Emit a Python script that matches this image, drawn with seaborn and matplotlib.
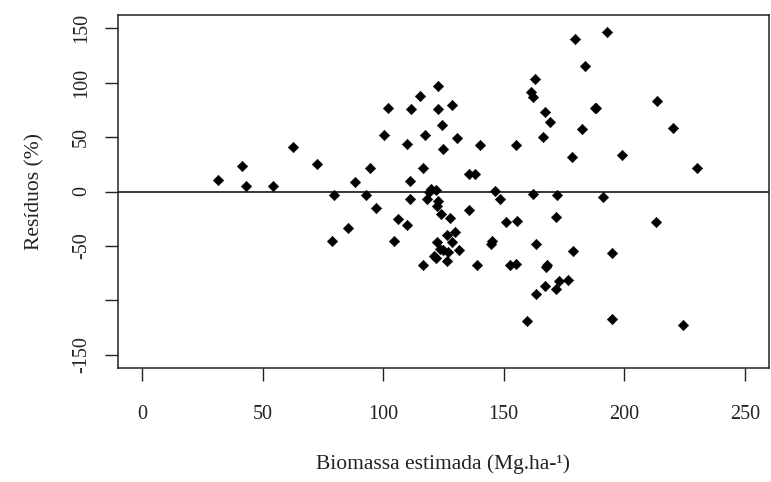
import matplotlib
matplotlib.use("Agg")
import matplotlib.pyplot as plt
import seaborn as sns
import pandas as pd

# Estimated biomass (Mg/ha) and residuals (%)
biomassa = [31.6, 41.6, 42.9, 54.1, 62.4, 72.4, 79.4, 78.9, 85.5, 88.5,
            92.8, 94.5, 97.0, 100.4, 102.1, 104.6, 106.2, 109.8, 109.7, 111.2,
            111.2, 111.6, 115.3, 116.4, 116.4, 117.5, 118.1, 119.0, 120.0, 121.8,
            122.9, 122.9, 122.9, 122.3, 124.1, 124.3, 124.8, 127.8, 128.4, 129.6,
            126.5, 128.4, 122.3, 131.3, 123.4, 124.8, 126.9, 121.0, 121.8, 126.5,
            130.6, 135.4, 137.9, 135.6, 139.0, 140.2, 144.8, 145.2, 146.2, 148.5,
            151.0, 155.5, 152.5, 155.0, 155.1, 159.8, 162.2, 161.3, 162.2, 162.9,
            163.3, 163.4, 166.3, 167.0, 167.1, 167.7, 168.0, 169.2, 171.5, 172.2,
            171.7, 172.7, 176.5, 178.3, 178.9, 179.4, 182.3, 183.5, 187.7, 188.2,
            191.3, 193.0, 194.7, 194.7, 199.0, 213.2, 213.7, 220.3, 224.5, 230.3]
residuos = [11.0, 23.0, 5.5, 5.5, 41.0, 25.0, -3.4, -45.5, -33.6, 8.5,
            -3.4, 21.7, -15.3, 52.0, 76.7, -45.5, -25.6, -31.0, 44.0, 10.0,
            -7.0, 75.4, 87.5, 21.7, -67.8, 52.0, -7.3, -0.6, 2.5, 1.6,
            96.4, 75.4, -8.9, -13.5, -20.4, 61.0, 38.7, -24.4, 79.4, -37.2,
            -40.3, -46.4, -46.4, -53.4, -52.5, -54.0, -55.6, -59.5, -61.1, -63.8,
            49.2, 16.2, 16.2, -16.8, -67.8, 42.7, -47.9, -45.0, 0.3, -7.3,
            -28.4, -27.2, -67.8, -66.8, 42.7, -119.0, -2.1, 91.0, 86.5, 102.8,
            -48.3, -94.3, 50.4, 73.0, -86.4, -69.3, -67.8, 63.5, -23.5, -3.4,
            -89.1, -82.4, -80.9, 32.0, -54.7, 139.8, 57.1, 114.8, 76.9, 76.9,
            -4.9, 146.2, -56.2, -116.6, 33.6, -28.4, 83.3, 58.3, -122.7, 21.7]

x_ticks = [0, 50, 100, 150, 200, 250]
x_tick_labels = ["0", "50", "100", "150", "200", "250"]
y_ticks = [-150, -100, -50, 0, 50, 100, 150]
y_tick_labels = ["-150", "", "-50", "0", "50", "100", "150"]

df = pd.DataFrame({"biomassa": biomassa, "residuos": residuos})

sns.set_style("ticks")
plt.rcParams["font.family"] = ["Liberation Serif", "DejaVu Serif"]

fig = plt.figure(figsize=(7.71, 4.82), dpi=100)
ax = fig.add_axes([118 / 771, 1 - 368 / 482, (769 - 118) / 771, (368 - 15) / 482])

sns.scatterplot(data=df, x="biomassa", y="residuos", marker="D", color="black",
                s=28, linewidth=0.4, edgecolor="black", ax=ax, zorder=3)
ax.axhline(0, color="black", lw=1.1, zorder=2)

ax.set_xlim(-10, 260)
ax.set_ylim(-162, 162)
ax.set_xticks(x_ticks)
ax.set_xticklabels(x_tick_labels)
ax.set_yticks(y_ticks)
ax.set_yticklabels(y_tick_labels, rotation=90, va="center")

for sp in ax.spines.values():
    sp.set_visible(True)
    sp.set_color("#222222")
    sp.set_linewidth(1.1)

ax.tick_params(axis="both", direction="out", length=9.5, width=1.0, color="#222222",
               labelsize=14.5, labelcolor="#222222")
ax.tick_params(axis="x", pad=17)
ax.tick_params(axis="y", pad=10)

ax.set_xlabel("Biomassa estimada (Mg.ha-¹)", fontsize=15.5, color="#222222", labelpad=22)
ax.set_ylabel("Resíduos (%)", fontsize=15.5, color="#222222", labelpad=20)

fig.savefig("out.png", dpi=100)
